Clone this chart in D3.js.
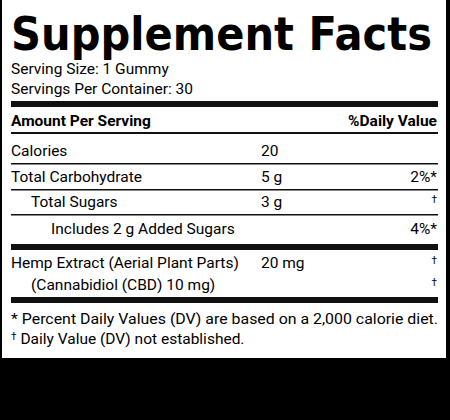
<!DOCTYPE html><html><head><meta charset="utf-8">
<script src="https://cdn.jsdelivr.net/npm/d3@7"></script>
<style>body{margin:0;background:#000}svg{display:block}</style></head><body>
<script>
const title = "Supplement Facts";
const servingLines = ["Serving Size: 1 Gummy", "Servings Per Container: 30"];
const nutrients = ["Calories", "Total Carbohydrate", "Total Sugars", "Includes 2 g Added Sugars", "Hemp Extract (Aerial Plant Parts)", "(Cannabidiol (CBD) 10 mg)"];
const amounts = ["20", "5 g", "3 g", "", "20 mg", ""];
const dailyValues = ["", "2%*", "†", "4%*", "†", "†"];
const indents = [0, 0, 1, 2, 0, 1];
const footnotes = ["* Percent Daily Values (DV) are based on a 2,000 calorie diet.", "† Daily Value (DV) not established."];

const W = 450, H = 420;
const svg = d3.select("body").append("svg").attr("width", W).attr("height", H);
svg.append("rect").attr("width", W).attr("height", H).attr("fill", "#000");
svg.append("rect").attr("x", 2).attr("y", 0).attr("width", 444).attr("height", 358).attr("fill", "#fff");
const font = "Roboto, 'Noto Sans', sans-serif";
svg.append("text").attr("x", 11).attr("y", 50).text(title)
  .attr("font-family", "'DejaVu Sans', sans-serif").attr("font-weight", "bold").attr("font-size", 47)
  .attr("textLength", 421).attr("lengthAdjust", "spacingAndGlyphs");
servingLines.forEach((s, i) => svg.append("text").attr("x", 11).attr("y", 74 + i * 20).text(s)
  .attr("font-family", font).attr("font-size", 15.5));
const rule = (y, h) => svg.append("rect").attr("x", 11).attr("width", 427).attr("y", y).attr("height", h).attr("fill", "#111");
rule(101, 6);
svg.append("text").attr("x", 11).attr("y", 126).text("Amount Per Serving").attr("font-family", font).attr("font-weight", "bold").attr("font-size", 15.5);
svg.append("text").attr("x", 437).attr("y", 126).attr("text-anchor", "end").text("%Daily Value").attr("font-family", font).attr("font-weight", "bold").attr("font-size", 15.5);
rule(132, 2);
const ys = [156, 182, 207, 234, 268, 290];
const indentX = d3.scaleLinear().domain([0, 2]).range([11, 51]);
nutrients.forEach((n, i) => {
  svg.append("text").attr("x", indentX(indents[i])).attr("y", ys[i]).text(n).attr("font-family", font).attr("font-size", 15.5);
  svg.append("text").attr("x", 261).attr("y", ys[i]).text(amounts[i]).attr("font-family", font).attr("font-size", 15.5);
  const dv = dailyValues[i];
  svg.append("text").attr("x", 437).attr("y", dv === "†" ? ys[i] - 4 : ys[i]).attr("text-anchor", "end").text(dv)
    .attr("font-family", font).attr("font-size", dv === "†" ? 10 : 15.5);
  if (i < 3) rule(ys[i] + 7, 1.5);
});
rule(244, 6);
rule(297, 6);
footnotes.forEach((f, i) => {
  const t = svg.append("text").attr("x", 11).attr("y", 324 + i * 20).attr("font-family", font).attr("font-size", 15.5);
  if (f.startsWith("†")) {
    t.append("tspan").text("†").attr("font-size", 10).attr("dy", -4);
    t.append("tspan").text(f.slice(1)).attr("dy", 4);
  } else t.text(f).attr("textLength", 427).attr("lengthAdjust", "spacingAndGlyphs");
});
</script></body></html>
